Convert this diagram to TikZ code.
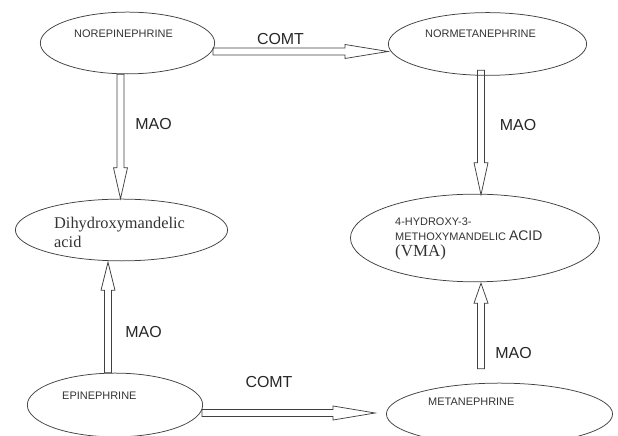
\documentclass[tikz,border=0pt]{standalone}
\usepackage{fontspec}
\setmainfont{Liberation Serif}
\setsansfont{Liberation Sans}
\usetikzlibrary{shapes.geometric,calc}
\tikzset{
mol/.style={ellipse,draw=black!75,line width=0.75bp,inner sep=0pt},
molname/.style={anchor=west,inner sep=0pt,text=black!80,font=\sffamily\fontsize{11}{13}\selectfont},
enzyme/.style={inner sep=0pt,text=black!85,font=\sffamily\fontsize{16}{18}\selectfont},
fatline/.style={draw=black!75,line width=0.75bp,line join=miter},
}
\newcommand{\fatarrow}[3][30]{%
  \path (#2) coordinate (fa-s) (#3) coordinate (fa-t);
  \coordinate (fa-h) at ($(fa-t)!#1bp!(fa-s)$);
  \draw[fatline] ($(fa-s)!3.5bp!90:(fa-t)$) -- ($(fa-h)!3.5bp!90:(fa-t)$)
    -- ($(fa-h)!7bp!90:(fa-t)$) -- (fa-t) -- ($(fa-h)!7bp!-90:(fa-t)$)
    -- ($(fa-h)!3.5bp!-90:(fa-t)$) -- ($(fa-s)!3.5bp!-90:(fa-t)$) -- cycle;
}

\begin{document}
\begin{tikzpicture}[x=1bp,y=1bp]
\useasboundingbox (0,0) rectangle (618,436);
\clip (0,0) rectangle (618,436);
\node[mol,minimum width=175,minimum height=62] (nor) at (127.5,393) {};
\node[mol,minimum width=199,minimum height=63] (nmn) at (487.5,392) {};
\node[mol,minimum width=213,minimum height=62] (dhm) at (121.5,206) {};
\node[mol,minimum width=250,minimum height=88] (vma) at (475,198) {};
\node[mol,minimum width=176,minimum height=64] (epi) at (115,31) {};
\node[mol,minimum width=227,minimum height=62] (met) at (499.5,22) {};

\node[molname] (nor-t) at (74,402) {NOREPINEPHRINE};
\node[molname] (nmn-t) at (425,402) {NORMETANEPHRINE};
\node[molname] (epi-t) at (62,40) {EPINEPHRINE};
\node[molname] (met-t) at (428,34) {METANEPHRINE};
\node[anchor=west,inner sep=0pt,align=left,text=black!80,
  font=\rmfamily\fontsize{16.4}{19}\selectfont] (dhm-t) at (54,204) {Dihydroxymandelic\\acid};
\node[molname,align=left,font=\sffamily\fontsize{11}{15}\selectfont] (vma-t) at (395,197)
  {4-HYDROXY-3-\\METHOXYMANDELIC {\fontsize{14}{15}\selectfont ACID}\\[2bp]
   {\rmfamily\fontsize{17}{17}\selectfont (VMA)}};

\fatarrow[43]{$(nor.east)+(-2,-8.5)$}{$(nmn.west)+(0,-7.5)$}
\fatarrow[42]{$(epi.east)+(-1,-8)$}{$(met.west)+(-11,1)$}
\fatarrow[31]{$(nor.south)+(-7,0)$}{$(dhm.north)+(-1,0)$}
\fatarrow[32]{$(nmn.south)+(-6.5,5.5)$}{$(vma.north)+(6,-1)$}
\fatarrow[28]{$(epi.north)+(-7,0)$}{$(dhm.south)+(-13.5,-1)$}
\fatarrow[20]{$(met.north)+(-18.5,14)$}{$(vma.south)+(6,-1)$}

\node[enzyme] (comt-a) at (280.5,397) {COMT};
\node[enzyme] (comt-b) at (269,54) {COMT};
\node[enzyme] (mao-a) at (153.5,312) {MAO};
\node[enzyme] (mao-b) at (518,311) {MAO};
\node[enzyme] (mao-c) at (143.5,104) {MAO};
\node[enzyme] (mao-d) at (513.5,83) {MAO};
\end{tikzpicture}
\end{document}
